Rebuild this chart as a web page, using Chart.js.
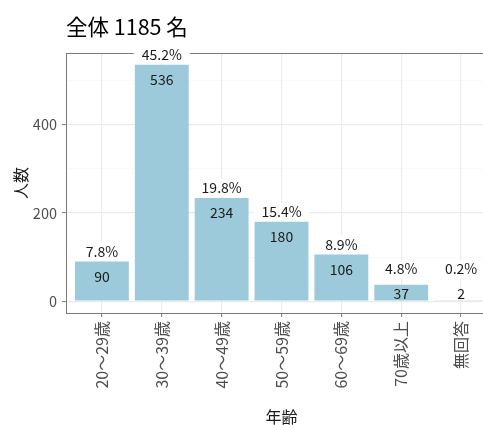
<!DOCTYPE html>
<html><head><meta charset="utf-8">
<script src="https://cdn.jsdelivr.net/npm/chart.js@4"></script>
<style>
html,body{margin:0;padding:0;background:#fff;overflow:hidden;width:483px;height:425px}
#wrap{position:absolute;left:0;top:0;width:497px;height:425px}
</style>
</head><body><div id="wrap"><canvas id="c" width="497" height="425"></canvas></div>
<script>
const chartTitle = '全体 1185 名';
const categories = ['20～29歳','30～39歳','40～49歳','50～59歳','60～69歳','70歳以上','無回答'];
const counts = [90, 536, 234, 180, 106, 37, 2];
const percents = ['7.8%','45.2%','19.8%','15.4%','8.9%','4.8%','0.2%'];
const yTicks = [0, 100, 200, 300, 400, 500];
const yLabelTicks = [0, 200, 400];
const xTitle = '年齢';
const yTitle = '人数';

const FONT = "'Noto Sans CJK JP', 'Noto Sans', sans-serif";
const BAR_COLOR = '#9DCADB';
const LABEL_MIN_BASE = 50;
Chart.defaults.font.family = FONT;

const maxCount = Math.max(...counts);
const isMajor = v => yLabelTicks.includes(v);

const decor = {
  id: 'decor',
  beforeDatasetsDraw(chart) {
    const {ctx, chartArea: a} = chart;
    ctx.save();
    ctx.strokeStyle = '#7a7a7a';
    ctx.lineWidth = 1;
    ctx.beginPath();
    ctx.moveTo(a.left, a.top + 0.5);
    ctx.lineTo(a.right, a.top + 0.5);
    ctx.stroke();
    ctx.restore();
  },
  afterDatasetsDraw(chart) {
    const {ctx} = chart;
    const meta = chart.getDatasetMeta(0);
    const ys = chart.scales.y;
    ctx.save();
    ctx.font = '14px ' + FONT;
    ctx.textAlign = 'center';
    ctx.textBaseline = 'middle';
    meta.data.forEach((bar, i) => {
      const base = ys.getPixelForValue(Math.max(counts[i], LABEL_MIN_BASE));
      const py = base - 10;
      const w = ctx.measureText(percents[i]).width + 16;
      ctx.fillStyle = '#fff';
      ctx.fillRect(bar.x - w / 2, py - 9, w, 18);
      ctx.fillStyle = '#1a1a1a';
      ctx.fillText(percents[i], bar.x, py);
      ctx.fillText(String(counts[i]), bar.x, base + 15);
    });
    ctx.restore();
  },
  afterDraw(chart) {
    const {ctx, chartArea: a} = chart;
    ctx.save();
    ctx.font = '21.5px ' + FONT;
    ctx.fillStyle = '#000';
    ctx.textAlign = 'left';
    ctx.textBaseline = 'middle';
    ctx.fillText(chartTitle, a.left, 27);
    ctx.restore();
  }
};

new Chart(document.getElementById('c'), {
  type: 'bar',
  data: {
    datasets: [{
      data: counts.map((v, i) => ({x: i, y: v})),
      backgroundColor: BAR_COLOR,
      borderWidth: 0,
      categoryPercentage: 1,
      barPercentage: 0.9
    }]
  },
  options: {
    responsive: false,
    animation: false,
    layout: {padding: {top: 53, left: 0, right: 0, bottom: 0}},
    plugins: {legend: {display: false}, tooltip: {enabled: false}, title: {display: false}},
    scales: {
      x: {
        type: 'linear',
        offset: false,
        min: -0.6,
        max: categories.length - 1 + 0.6,
        afterBuildTicks: s => { s.ticks = categories.map((c, i) => ({value: i})); },
        afterFit: s => { s.height = 112; },
        ticks: {
          autoSkip: false, minRotation: 90, maxRotation: 90, padding: 4,
          color: '#4D4D4D', font: {size: 16},
          callback: v => categories[v]
        },
        grid: {offset: false, color: '#EBEBEB', lineWidth: 1.2, tickColor: '#7a7a7a', tickLength: 4, tickWidth: 1},
        border: {color: '#7a7a7a', width: 1},
        title: {display: true, text: xTitle, color: '#1a1a1a', font: {size: 16, lineHeight: 1}, padding: {top: 0, bottom: 0}}
      },
      y: {
        min: -0.05 * maxCount,
        max: 1.05 * maxCount,
        afterBuildTicks: s => { s.ticks = yTicks.map(v => ({value: v})); },
        afterFit: s => { s.width = 66; },
        ticks: {
          padding: 5, color: '#4D4D4D', font: {size: 14.5},
          callback: v => isMajor(v) ? String(v) : ''
        },
        grid: {
          color: c => isMajor(c.tick.value) ? '#EBEBEB' : '#F5F5F5',
          lineWidth: c => isMajor(c.tick.value) ? 1.2 : 0.6,
          tickColor: c => isMajor(c.tick.value) ? '#7a7a7a' : 'rgba(0,0,0,0)',
          tickLength: 4, tickWidth: 1
        },
        border: {color: '#7a7a7a', width: 1},
        title: {display: true, text: yTitle, color: '#1a1a1a', font: {size: 16}, padding: {top: 11, bottom: 0}}
      }
    }
  },
  plugins: [decor]
});
</script>
</body></html>
